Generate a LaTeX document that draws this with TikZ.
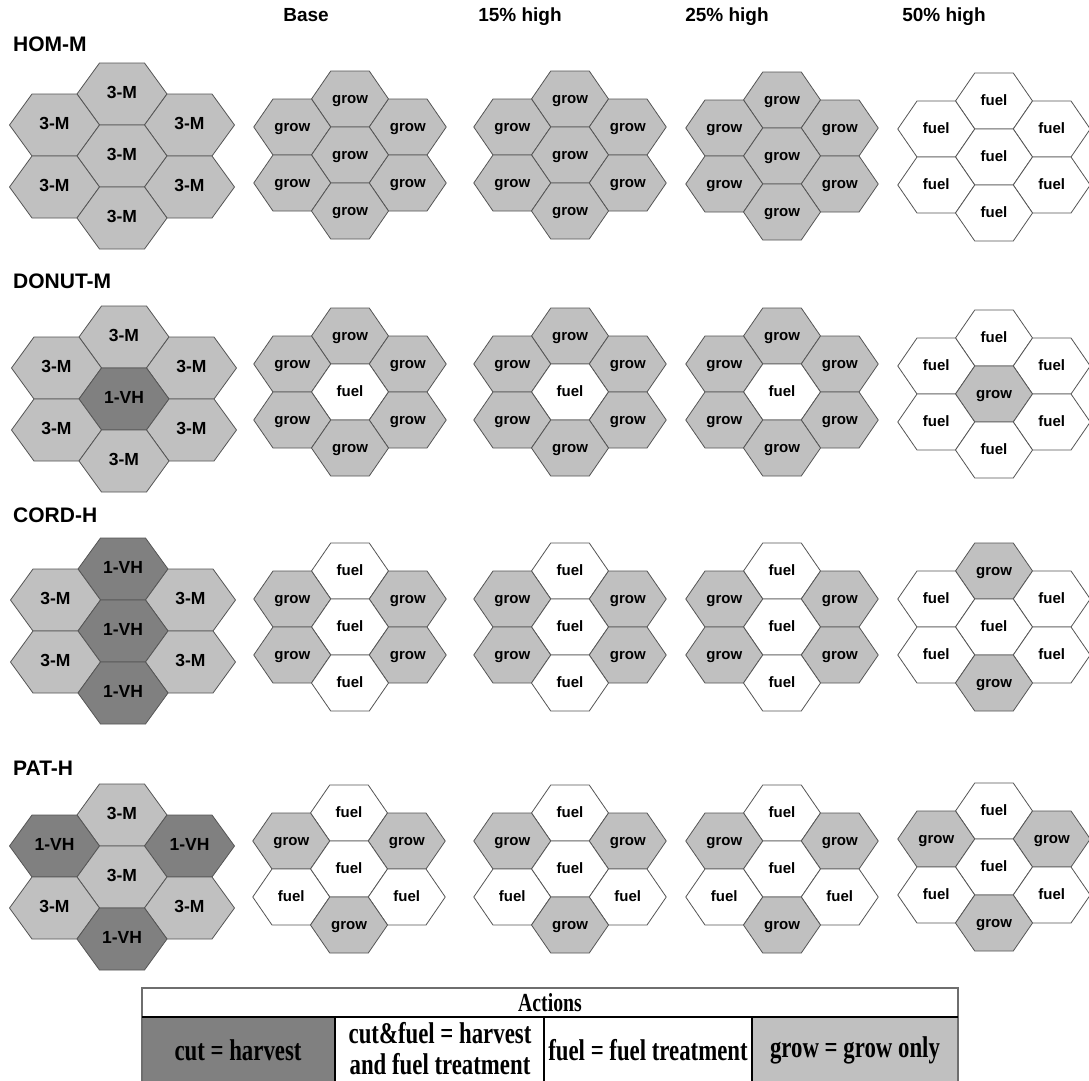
\documentclass[tikz,border=0pt]{standalone}
\usepackage{fontspec}
\setmainfont{Liberation Sans}
\newfontfamily\legendfont[FakeStretch=0.76]{Liberation Serif}

\definecolor{hexM}{RGB}{192,192,192}
\definecolor{hexG}{RGB}{192,192,192}
\definecolor{hexV}{RGB}{128,128,128}
\definecolor{hexF}{RGB}{255,255,255}
\definecolor{edgegray}{RGB}{85,85,85}
\definecolor{framegray}{RGB}{110,110,110}

% cell labels by type
\def\lblM{3-M}
\def\lblV{1-VH}
\def\lblG{grow}
\def\lblF{fuel}

\tikzset{
  hexline/.style={draw=edgegray, line width=0.8pt, line join=miter},
  hexlabel/.style={font=\bfseries\lblsize, inner sep=0pt, text height=0.62em, text depth=0.1em, yshift=-0.14em},
  rowlabel/.style={font=\bfseries\fontsize{21}{23}\selectfont, anchor=west, inner sep=0pt},
  colhead/.style={font=\bfseries\fontsize{19}{21}\selectfont, inner sep=0pt, anchor=base},
  legendtext/.style={font=\legendfont\bfseries\fontsize{30}{31}\selectfont, align=center, inner sep=0pt},
  tableframe/.style={draw=framegray, line width=1.2pt},
}

% one hexagonal cell: name, x, y, type
\newcommand\hexcell[4]{%
  \edef\hexfill{hex#4}%
  \path[hexline, fill=\hexfill]
    ({#2-\hexW/2},{#3}) -- ({#2-\hexW/4},{#3-\hexH/2}) --
    ({#2+\hexW/4},{#3-\hexH/2}) -- ({#2+\hexW/2},{#3}) --
    ({#2+\hexW/4},{#3+\hexH/2}) -- ({#2-\hexW/4},{#3+\hexH/2}) -- cycle;
  \node[hexlabel] (#1) at ({#2},{#3}) {\csname lbl#4\endcsname};
}

% seven-cell stand: prefix, cx, cy, types in order T,UL,UR,C,LL,LR,B
\newcommand\cluster[4]{%
  \foreach \t [count=\i] in {#4} {
    \ifcase\i\or
      \def\dx{0}\def\dy{-1}\def\nm{t}\or
      \def\dx{-0.75}\def\dy{-0.5}\def\nm{ul}\or
      \def\dx{0.75}\def\dy{-0.5}\def\nm{ur}\or
      \def\dx{0}\def\dy{0}\def\nm{c}\or
      \def\dx{-0.75}\def\dy{0.5}\def\nm{ll}\or
      \def\dx{0.75}\def\dy{0.5}\def\nm{lr}\or
      \def\dx{0}\def\dy{1}\def\nm{b}\fi
    \pgfmathsetmacro\px{#2+(\dx)*\hexW}
    \pgfmathsetmacro\py{#3+(\dy)*\hexH}
    \hexcell{#1\nm}{\px}{\py}{\t}
  }
}

\begin{document}
\begin{tikzpicture}[x=1pt, y=-1pt]
\useasboundingbox[fill=white] (0,0) rectangle (1089,1080);

% column headings
\node[colhead] (hbase) at (306,21) {Base};
\node[colhead] (h15) at (520,21) {15\% high};
\node[colhead] (h25) at (727,21) {25\% high};
\node[colhead] (h50) at (944,21) {50\% high};

% row headings
\node[rowlabel] (lhom) at (13,44) {HOM-M};
\node[rowlabel] (ldonut) at (13,281) {DONUT-M};
\node[rowlabel] (lcord) at (13,515) {CORD-H};
\node[rowlabel] (lpat) at (13,768) {PAT-H};

% initial stand structure
\def\hexW{90}\def\hexH{62}\def\lblsize{\fontsize{17.5}{19}\selectfont}
\cluster{a1}{122}{156}{M,M,M,M,M,M,M}
\cluster{a2}{124}{399}{M,M,M,V,M,M,M}
\cluster{a3}{123}{631}{V,M,M,V,M,M,V}
\cluster{a4}{122}{877}{M,V,V,M,M,M,V}

% treatment schedules
\def\hexW{77}\def\hexH{56}\def\lblsize{\fontsize{15}{17}\selectfont}
\cluster{b1}{350}{155}{G,G,G,G,G,G,G}
\cluster{c1}{570}{155}{G,G,G,G,G,G,G}
\cluster{d1}{782}{156}{G,G,G,G,G,G,G}
\cluster{e1}{994}{157}{F,F,F,F,F,F,F}

\cluster{b2}{350}{392}{G,G,G,F,G,G,G}
\cluster{c2}{570}{392}{G,G,G,F,G,G,G}
\cluster{d2}{782}{392}{G,G,G,F,G,G,G}
\cluster{e2}{994}{394}{F,F,F,G,F,F,F}

\cluster{b3}{350}{627}{F,G,G,F,G,G,F}
\cluster{c3}{570}{627}{F,G,G,F,G,G,F}
\cluster{d3}{782}{627}{F,G,G,F,G,G,F}
\cluster{e3}{994}{627}{G,F,F,F,F,F,G}

\cluster{b4}{349}{869}{F,G,G,F,F,F,G}
\cluster{c4}{570}{869}{F,G,G,F,F,F,G}
\cluster{d4}{782}{869}{F,G,G,F,F,F,G}
\cluster{e4}{994}{867}{F,G,G,F,F,F,G}

% legend table
\fill[hexV] (142,1017) rectangle (335,1085);
\fill[hexG] (752,1017) rectangle (958,1085);
\draw[tableframe] (142,988) rectangle (958,1085);
\draw[line width=2pt] (142,1017) -- (958,1017);
\draw[line width=1.5pt] (335,1017) -- (335,1085);
\draw[line width=1.5pt] (544,1017) -- (544,1085);
\draw[line width=1.5pt] (752,1017) -- (752,1085);

\node[legendtext, font=\legendfont\bfseries\fontsize{26}{28}\selectfont] (tact) at (550,1003) {Actions};
\node[legendtext] (tcut) at (238,1050) {cut = harvest};
\node[legendtext] (tcf) at (440,1049) {cut\&fuel = harvest\\and fuel treatment};
\node[legendtext] (tfuel) at (648,1050) {fuel = fuel treatment};
\node[legendtext] (tgrow) at (855,1050) {grow = grow only};
\end{tikzpicture}
\end{document}
